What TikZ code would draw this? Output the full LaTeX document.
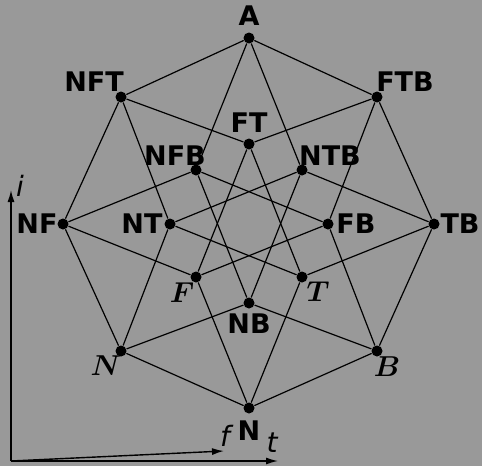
\documentclass[tikz,border=0pt]{standalone}
\usepackage{amsmath, amssymb}
\usepackage{fontspec}
\setsansfont{DejaVu Sans}
\usetikzlibrary{arrows.meta}
\definecolor{bggray}{RGB}{153,153,153}

\begin{document}
\begin{tikzpicture}[
  x=0.5pt, y=-0.5pt,
  dot/.style={circle, fill=black, inner sep=0pt, minimum size=5.5pt},
  lab/.style={inner sep=0pt, font=\sffamily\bfseries\fontsize{13.5}{15}\selectfont},
  mlab/.style={inner sep=0pt, font=\fontsize{14.4}{16}\selectfont},
  axlab/.style={inner sep=0pt, font=\sffamily\itshape\fontsize{14}{16}\selectfont},
  edge/.style={line width=0.6pt},
  axis/.style={-{Latex[length=6pt,width=3.5pt]}, line width=0.7pt}
]
  \fill[bggray] (0,0) rectangle (482,466);
  \useasboundingbox (0,0) rectangle (482,466);

  % vertices of the hypercube
  \node[dot] (A)   at (249,38)  {};
  \node[dot] (NFT) at (121,97)  {};
  \node[dot] (FTB) at (377,97)  {};
  \node[dot] (FT)  at (249,144) {};
  \node[dot] (NFB) at (196,170) {};
  \node[dot] (NTB) at (302,170) {};
  \node[dot] (NF)  at (63,224)  {};
  \node[dot] (NT)  at (170,224) {};
  \node[dot] (FB)  at (328,224) {};
  \node[dot] (TB)  at (434,224) {};
  \node[dot] (F)   at (196,277) {};
  \node[dot] (T)   at (302,277) {};
  \node[dot] (NB)  at (249,303) {};
  \node[dot] (N)   at (121,351) {};
  \node[dot] (B)   at (377,351) {};
  \node[dot] (O)   at (249,408) {};

  % labels
  \node[lab] (lA)   at (249,16)  {A};
  \node[lab] (lNFT) at (94,82)   {NFT};
  \node[lab] (lFTB) at (405,82)  {FTB};
  \node[lab] (lFT)  at (249,123) {FT};
  \node[lab] (lNFB) at (175,156) {NFB};
  \node[lab] (lNTB) at (330,156) {NTB};
  \node[lab] (lNF)  at (37,224)  {NF};
  \node[lab] (lNT)  at (142,224) {NT};
  \node[lab] (lFB)  at (356,224) {FB};
  \node[lab] (lTB)  at (460,224) {TB};
  \node[lab] (lNB)  at (249,324) {NB};
  \node[lab] (lO)   at (249,431) {N};
  \node[mlab] (lF)  at (182,293) {$\boldsymbol{F}$};
  \node[mlab] (lT)  at (318,292) {$\boldsymbol{T}$};
  \node[mlab] (lN)  at (106,366) {$\boldsymbol{N}$};
  \node[mlab] (lB)  at (387,367) {$\boldsymbol{B}$};

  % edges
  \draw[edge] (O) -- (N) (O) -- (F) (O) -- (T) (O) -- (B);
  \draw[edge] (N) -- (NF) (N) -- (NT) (N) -- (NB);
  \draw[edge] (F) -- (NF) (F) -- (FT) (F) -- (FB);
  \draw[edge] (T) -- (NT) (T) -- (FT) (T) -- (TB);
  \draw[edge] (B) -- (NB) (B) -- (FB) (B) -- (TB);
  \draw[edge] (NF) -- (NFT) (NF) -- (NFB);
  \draw[edge] (NT) -- (NFT) (NT) -- (NTB);
  \draw[edge] (NB) -- (NFB) (NB) -- (NTB);
  \draw[edge] (FT) -- (NFT) (FT) -- (FTB);
  \draw[edge] (FB) -- (NFB) (FB) -- (FTB);
  \draw[edge] (TB) -- (NTB) (TB) -- (FTB);
  \draw[edge] (A) -- (NFT) (A) -- (NFB) (A) -- (NTB) (A) -- (FTB);

  % axes
  \coordinate (orig) at (11,461);
  \coordinate (ai) at (11,190);
  \coordinate (af) at (224,451);
  \coordinate (at) at (278,461);
  \draw[axis] (orig) -- (ai);
  \draw[axis] (orig) -- (af);
  \draw[axis] (orig) -- (at);
  \node[axlab] (li) at (20,186) {i};
  \node[axlab] (lf) at (225,436) {f};
  \node[axlab] (lt) at (272,443) {t};
\end{tikzpicture}
\end{document}
